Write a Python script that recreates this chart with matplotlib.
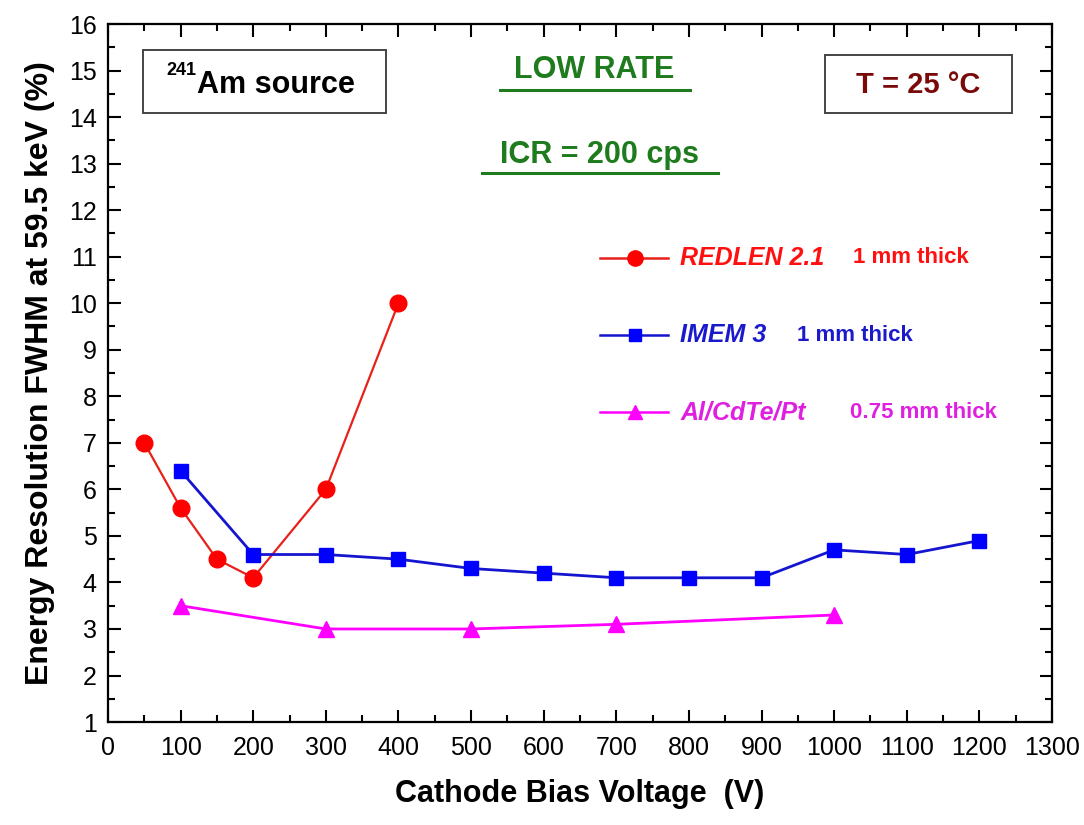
import matplotlib
matplotlib.use("Agg")
import matplotlib.pyplot as plt
from matplotlib.ticker import MultipleLocator
from matplotlib.lines import Line2D
from matplotlib.patches import Rectangle

# ---- data ----
redlen_v = [50, 100, 150, 200, 300, 400]
redlen_fwhm = [7.0, 5.6, 4.5, 4.1, 6.0, 10.0]

imem_v = [100, 200, 300, 400, 500, 600, 700, 800, 900, 1000, 1100, 1200]
imem_fwhm = [6.4, 4.6, 4.6, 4.5, 4.3, 4.2, 4.1, 4.1, 4.1, 4.7, 4.6, 4.9]

alcdte_v = [100, 300, 500, 700, 1000]
alcdte_fwhm = [3.5, 3.0, 3.0, 3.1, 3.3]

series_names = ["REDLEN 2.1", "IMEM 3", "Al/CdTe/Pt"]
series_thick = ["1 mm thick", "1 mm thick", "0.75 mm thick"]

xlabel = "Cathode Bias Voltage  (V)"
ylabel = "Energy Resolution FWHM at 59.5 keV (%)"

plt.rcParams['font.family'] = ['Liberation Sans', 'DejaVu Sans']

fig = plt.figure(figsize=(10.84, 8.25), dpi=100)
ax = fig.add_axes([0.0996, 0.1248, 0.8709, 0.8461])

red = '#FF0000'
blue = '#0000FF'
mag = '#FF00FF'
red_line = '#E8201A'
blue_line = '#1515D0'

ax.plot(redlen_v, redlen_fwhm, color=red_line, lw=1.6, marker='o', ms=12,
        mfc=red, mec=red, zorder=3)
ax.plot(imem_v, imem_fwhm, color=blue_line, lw=2.0, marker='s', ms=10,
        mfc=blue, mec=blue, zorder=3)
ax.plot(alcdte_v, alcdte_fwhm, color=mag, lw=2.0, marker='^', ms=11,
        mfc=mag, mec=mag, zorder=3)

ax.set_xlim(0, 1300)
ax.set_ylim(1, 16)
ax.xaxis.set_major_locator(MultipleLocator(100))
ax.xaxis.set_minor_locator(MultipleLocator(50))
ax.yaxis.set_major_locator(MultipleLocator(1))
ax.yaxis.set_minor_locator(MultipleLocator(0.5))
ax.tick_params(which='both', direction='in', top=True, right=True, width=1.5)
ax.tick_params(which='major', length=9)
ax.tick_params(which='minor', length=5)
ax.tick_params(axis='x', which='major', labelsize=18, pad=10)
ax.tick_params(axis='y', which='major', labelsize=18, pad=8)
for s in ax.spines.values():
    s.set_linewidth(1.6)

ax.set_xlabel(xlabel, fontsize=22, fontweight='bold', labelpad=14)
ax.set_ylabel(ylabel, fontsize=23, fontweight='bold', labelpad=10)

# annotation boxes
ax.add_patch(Rectangle((0.037, 0.8725), 0.258, 0.0905, transform=ax.transAxes,
                       fc='white', ec='#444444', lw=1.4, zorder=4))
ax.text(0.0935, 0.933, "241", transform=ax.transAxes, fontsize=13,
        fontweight='bold', ha='right', va='center', zorder=5)
ax.text(0.094, 0.913, "Am source", transform=ax.transAxes,
        fontsize=22, fontweight='bold', ha='left', va='center', zorder=5)
ax.add_patch(Rectangle((0.7595, 0.8725), 0.198, 0.083, transform=ax.transAxes,
                       fc='white', ec='#444444', lw=1.4, zorder=4))
ax.text(0.8585, 0.912, "T = 25 \u00b0C", transform=ax.transAxes,
        fontsize=21, fontweight='bold', color='#7A0A0A', ha='center',
        va='center', zorder=5)

green = '#1E7B1E'
for txt, yy, uy, x0, x1 in [("LOW RATE", 0.934, 0.906, 0.415, 0.616),
                            ("ICR = 200 cps", 0.812, 0.786, 0.396, 0.646)]:
    ax.text((x0 + x1) / 2, yy, txt, transform=ax.transAxes, fontsize=22,
            fontweight='bold', color=green, ha='center', va='center')
    ax.add_line(Line2D([x0, x1], [uy, uy], transform=ax.transAxes,
                       color=green, lw=2.2))

# manual legend
leg_y = [0.665, 0.554, 0.444]
leg_style = [(red, red_line, 'o', 11), (blue, blue_line, 's', 9), (mag, mag, '^', 10)]
name_cols = ['#FF1010', '#1A1ACC', '#E020E0']
thick_x = [0.789, 0.730, 0.786]
for yy, (mc, lc, mk, ms), nm, th, nc, tx in zip(leg_y, leg_style, series_names,
                                                series_thick, name_cols, thick_x):
    ax.add_line(Line2D([0.521, 0.593], [yy, yy], transform=ax.transAxes,
                       color=lc, lw=1.8))
    ax.add_line(Line2D([0.558], [yy], transform=ax.transAxes, marker=mk, ms=ms,
                       mfc=mc, mec=mc, lw=0))
    ax.text(0.606, yy, nm, transform=ax.transAxes, fontsize=18, fontweight='bold',
            fontstyle='italic', color=nc, ha='left', va='center')
    ax.text(tx, yy, th, transform=ax.transAxes, fontsize=16,
            fontweight='bold', color=nc, ha='left', va='center')

fig.savefig("out.png", dpi=100)
